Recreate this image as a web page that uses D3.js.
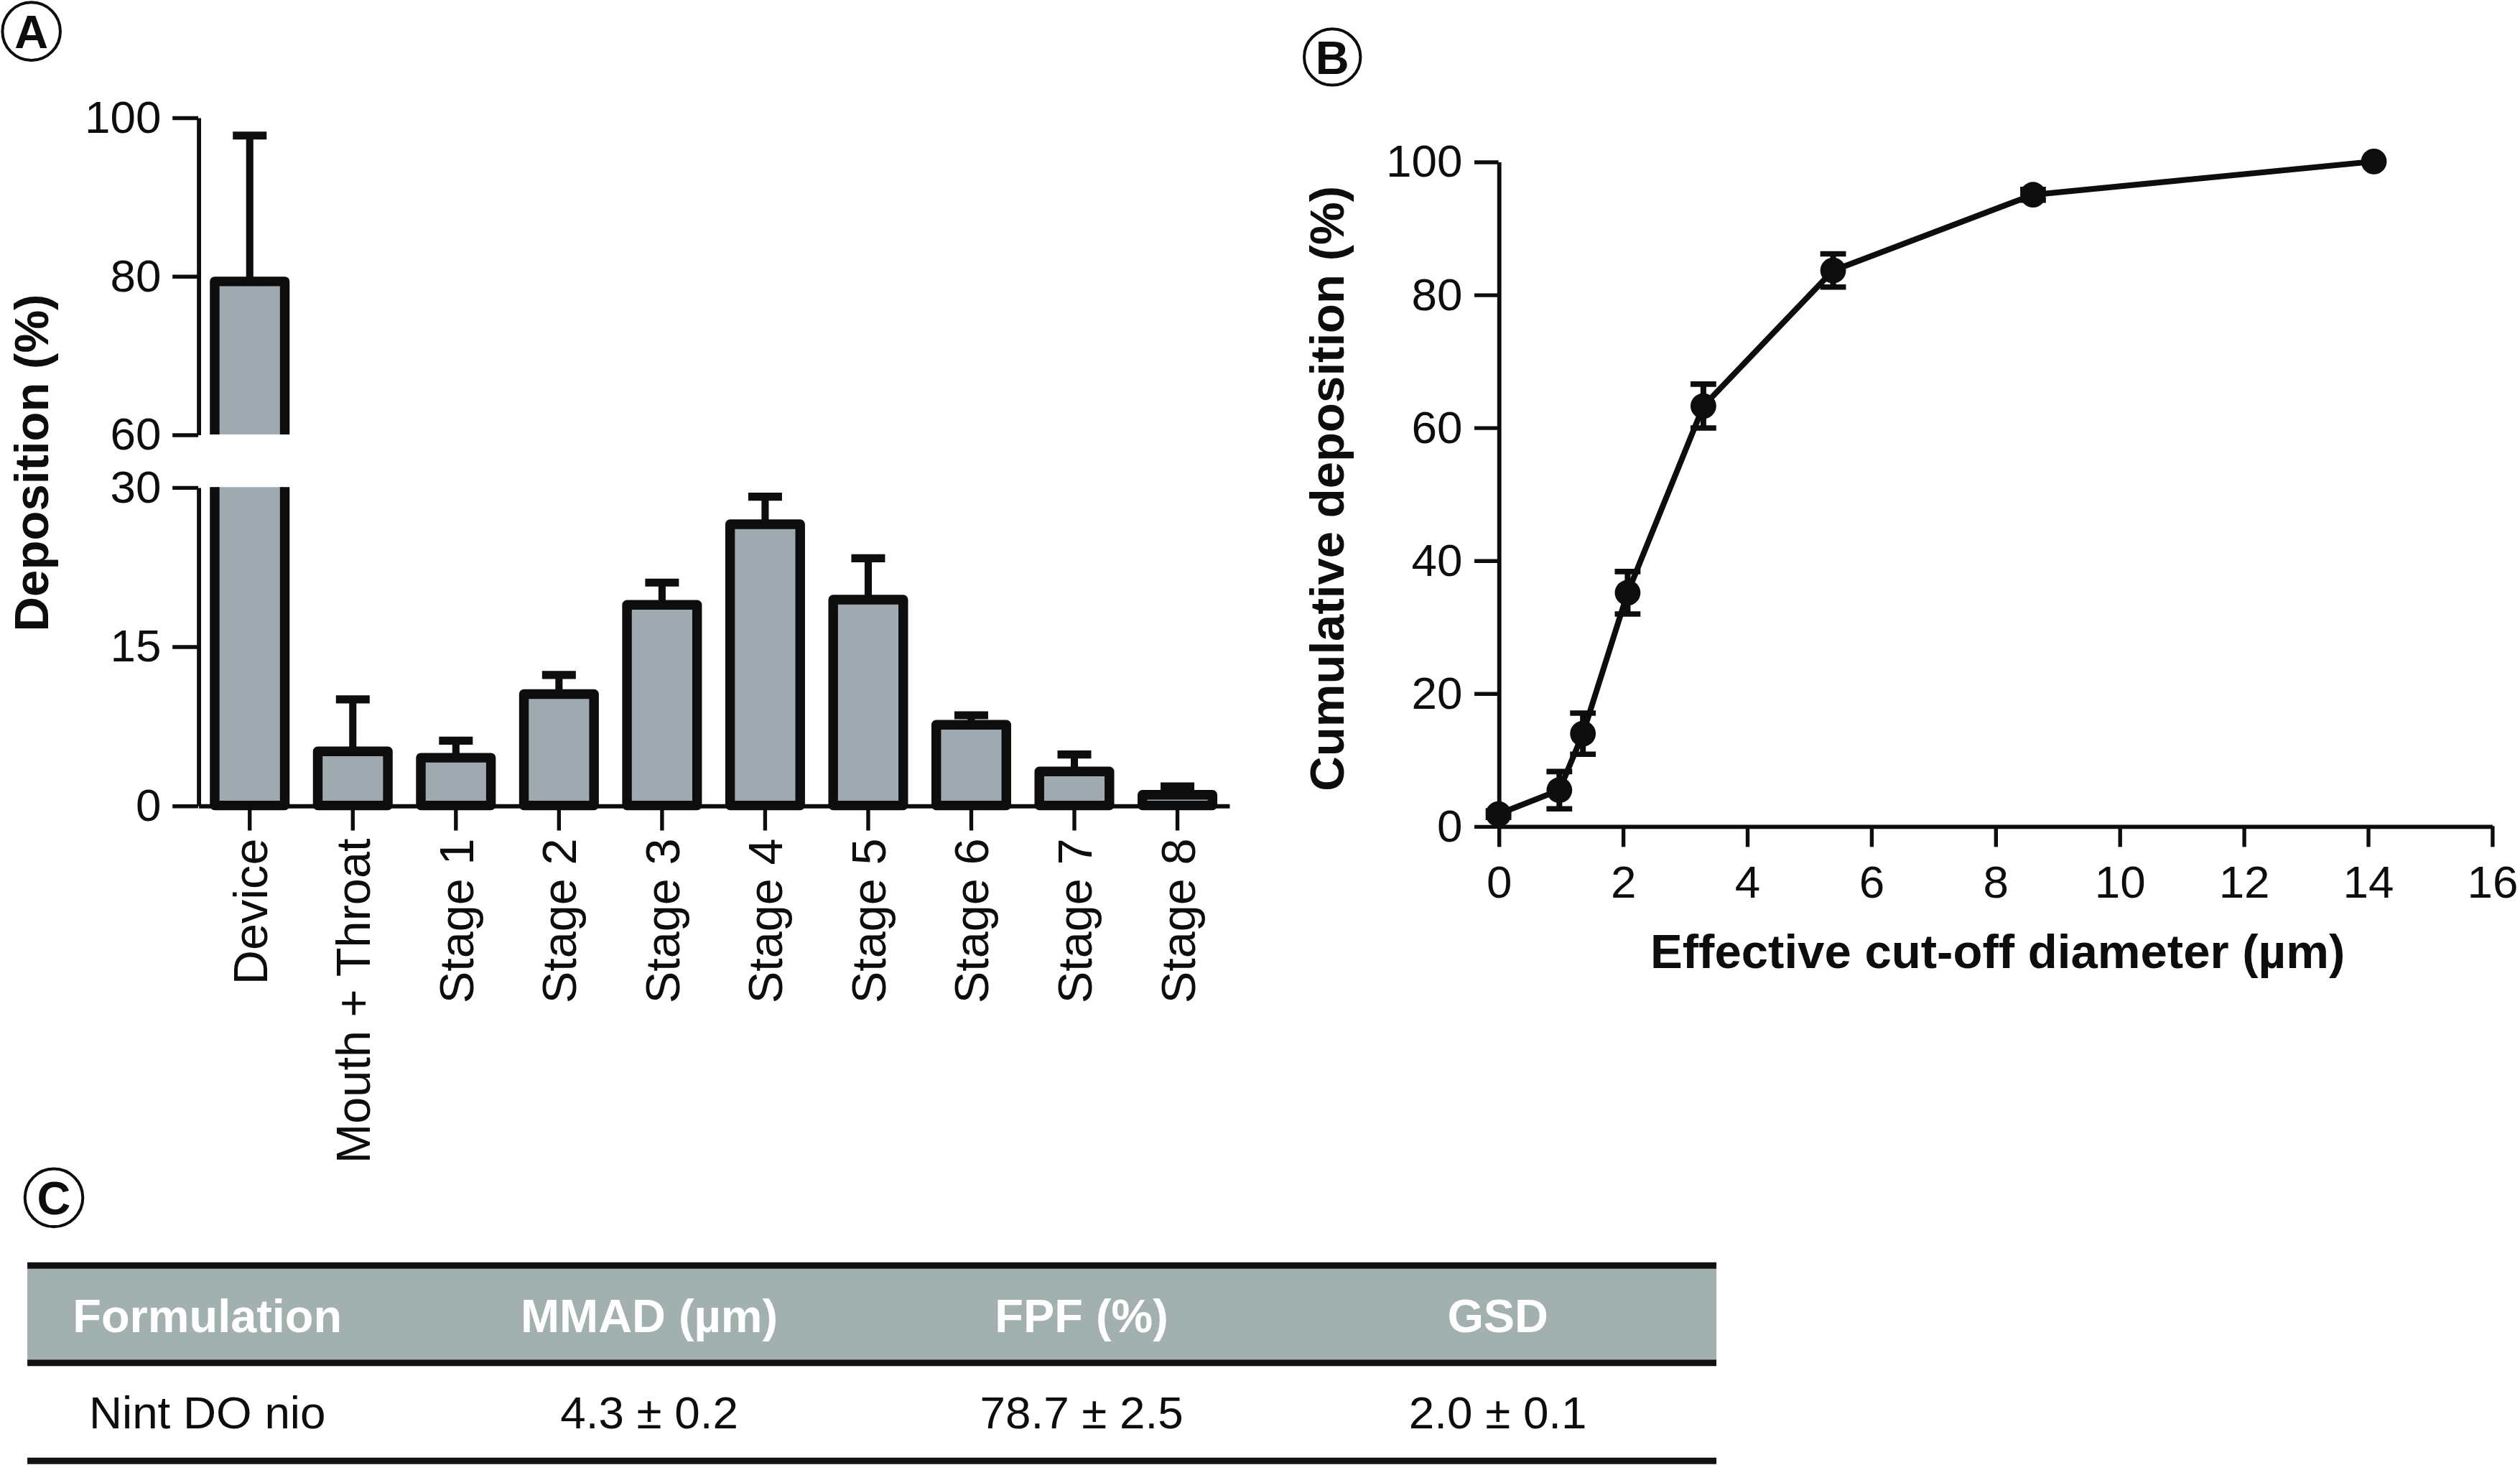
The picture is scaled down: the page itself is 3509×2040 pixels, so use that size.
<!DOCTYPE html>
<html><head><meta charset="utf-8">
<script src="https://cdn.jsdelivr.net/npm/d3@7"></script>
<style>html,body{margin:0;padding:0;background:#fff;overflow:hidden;} svg{display:block;}</style>
</head><body>
<svg id="chart"></svg>
<script>
// ---------- DATA ----------
const categories = ["Device", "Mouth + Throat", "Stage 1", "Stage 2", "Stage 3", "Stage 4", "Stage 5", "Stage 6", "Stage 7", "Stage 8"];
const depositionMean = [79.3, 5.1, 4.5, 10.5, 18.9, 26.5, 19.4, 7.6, 3.2, 1.0];
const depositionSD   = [18.4, 4.9, 1.6, 1.8, 2.1, 2.6, 3.9, 0.9, 1.6, 0.8];
const upperTicks = [60, 80, 100];
const lowerTicks = [0, 15, 30];

const cutoffDiameter = [0, 0.98, 1.36, 2.08, 3.30, 5.39, 8.61, 14.1];
const cumulativeDeposition = [1.8, 5.4, 13.9, 35.1, 63.2, 83.6, 95.0, 100];
const cumulativeSD = [0.5, 2.8, 3.1, 3.2, 3.3, 2.5, 0.8, 0];
const xTicksB = [0, 2, 4, 6, 8, 10, 12, 14, 16];
const yTicksB = [0, 20, 40, 60, 80, 100];

const tableHeaders = ["Formulation", "MMAD (µm)", "FPF (%)", "GSD"];
const tableRow = ["Nint DO nio", "4.3 ± 0.2", "78.7 ± 2.5", "2.0 ± 0.1"];

// ---------- SETUP ----------
const W = 1568, H = 911.6;
const FONT = "'Liberation Sans', Arial, Helvetica, sans-serif";
const BAR_FILL = "#9eaab0";
const HEAD_FILL = "#a2b0af";
const INK = "#0d0d0d";

const svg = d3.select("#chart")
  .attr("width", 3509).attr("height", 2040)
  .attr("viewBox", `0 0 ${W} ${H}`)
  .style("font-family", FONT);

function styleAxis(g, fs) {
  g.select(".domain").attr("stroke", INK).attr("stroke-width", 2.6);
  g.selectAll(".tick line").attr("stroke", INK).attr("stroke-width", 2.4);
  g.selectAll(".tick text").attr("fill", INK).style("font-size", fs + "px").style("font-family", FONT);
}

function panelLetter(cx, cy, r, letter) {
  svg.append("circle").attr("cx", cx).attr("cy", cy).attr("r", r)
    .attr("fill", "none").attr("stroke", INK).attr("stroke-width", 1.8);
  svg.append("text").attr("x", cx).attr("y", cy).attr("dy", "0.36em")
    .attr("text-anchor", "middle").style("font-size", "29px").style("font-weight", "bold")
    .attr("fill", INK).text(letter);
}

// ---------- PANEL A ----------
const axA = 123.3;
const x = d3.scaleBand().domain(categories).range([axA, 764.7]).padding(0);
const yUp = d3.scaleLinear().domain([60, 100]).range([270.3, 73]);
const yLow = d3.scaleLinear().domain([0, 30]).range([501.2, 303.1]);
const yVal = v => v > 30 ? yUp(v) : yLow(v);
const barW = x.bandwidth() * 0.68;

const gA = svg.append("g");

categories.forEach((c, i) => {
  const m = depositionMean[i];
  const cx = x(c) + x.bandwidth() / 2;
  const x0 = cx - barW / 2, x1 = cx + barW / 2;
  if (m > 30) {
    gA.append("rect").attr("x", x0).attr("y", yLow(30)).attr("width", barW).attr("height", yLow(0) - yLow(30)).attr("fill", BAR_FILL);
    gA.append("path").attr("d", `M${x0},${yLow(30)}V${yLow(0)}H${x1}V${yLow(30)}`)
      .attr("fill", "none").attr("stroke", INK).attr("stroke-width", 6).attr("stroke-linejoin", "round");
    gA.append("rect").attr("x", x0).attr("y", yUp(m)).attr("width", barW).attr("height", yUp(60) - yUp(m)).attr("fill", BAR_FILL);
    gA.append("path").attr("d", `M${x0},${yUp(60)}V${yUp(m)}H${x1}V${yUp(60)}`)
      .attr("fill", "none").attr("stroke", INK).attr("stroke-width", 6).attr("stroke-linejoin", "round");
  } else {
    gA.append("rect").attr("x", x0).attr("y", yLow(m)).attr("width", barW).attr("height", yLow(0) - yLow(m))
      .attr("fill", BAR_FILL).attr("stroke", INK).attr("stroke-width", 6).attr("stroke-linejoin", "round");
  }
  const top = yVal(m + depositionSD[i]);
  gA.append("line").attr("x1", cx).attr("x2", cx).attr("y1", yVal(m)).attr("y2", top)
    .attr("stroke", INK).attr("stroke-width", 4.5);
  gA.append("line").attr("x1", cx - 10.5).attr("x2", cx + 10.5).attr("y1", top).attr("y2", top)
    .attr("stroke", INK).attr("stroke-width", 5);
});

const gYU = gA.append("g").attr("transform", `translate(${axA},0)`)
  .call(d3.axisLeft(yUp).tickValues(upperTicks).tickSize(16).tickSizeOuter(0).tickPadding(7));
styleAxis(gYU, 28.5);
const gYL = gA.append("g").attr("transform", `translate(${axA},0)`)
  .call(d3.axisLeft(yLow).tickValues(lowerTicks).tickSize(16).tickSizeOuter(0).tickPadding(7));
styleAxis(gYL, 28.5);

const gXA = gA.append("g").attr("transform", `translate(0,${yLow(0)})`)
  .call(d3.axisBottom(x).tickSize(15.6).tickSizeOuter(0));
styleAxis(gXA, 29.8);
gXA.selectAll(".tick text")
  .attr("text-anchor", "end")
  .attr("x", 0).attr("y", 0)
  .attr("dy", "0.36em")
  .attr("transform", "translate(0,20.5) rotate(-90)");

gA.append("text").attr("transform", "translate(30,288) rotate(-90)")
  .attr("text-anchor", "middle").style("font-size", "30px").style("font-weight", "bold")
  .attr("fill", INK).text("Deposition (%)");

panelLetter(19.5, 19.5, 18, "A");

// ---------- PANEL B ----------
const xB = d3.scaleLinear().domain([0, 16]).range([932.4, 1550.5]);
const yB = d3.scaleLinear().domain([0, 100]).range([514, 100.5]);
const gB = svg.append("g");

const gXB = gB.append("g").attr("transform", `translate(0,${yB(0)})`)
  .call(d3.axisBottom(xB).tickValues(xTicksB).tickSize(13).tickSizeOuter(0).tickPadding(11.5));
styleAxis(gXB, 28.5);
const gYB = gB.append("g").attr("transform", `translate(${xB(0)},0)`)
  .call(d3.axisLeft(yB).tickValues(yTicksB).tickSize(15).tickSizeOuter(0).tickPadding(7.4));
styleAxis(gYB, 28.5);

const pts = cutoffDiameter.map((d, i) => ({ x: d, y: cumulativeDeposition[i], e: cumulativeSD[i] }));
gB.append("path").datum(pts)
  .attr("d", d3.line().x(d => xB(d.x)).y(d => yB(d.y)))
  .attr("fill", "none").attr("stroke", INK).attr("stroke-width", 3.6).attr("stroke-linejoin", "round");

const eb = gB.append("g").selectAll("g").data(pts.filter(d => d.e > 0)).join("g");
eb.append("line").attr("x1", d => xB(d.x)).attr("x2", d => xB(d.x))
  .attr("y1", d => yB(d.y - d.e)).attr("y2", d => yB(d.y + d.e))
  .attr("stroke", INK).attr("stroke-width", 3.6);
eb.append("line").attr("x1", d => xB(d.x) - 8).attr("x2", d => xB(d.x) + 8)
  .attr("y1", d => yB(d.y + d.e)).attr("y2", d => yB(d.y + d.e))
  .attr("stroke", INK).attr("stroke-width", 3.4);
eb.append("line").attr("x1", d => xB(d.x) - 8).attr("x2", d => xB(d.x) + 8)
  .attr("y1", d => yB(d.y - d.e)).attr("y2", d => yB(d.y - d.e))
  .attr("stroke", INK).attr("stroke-width", 3.4);

gB.append("g").selectAll("circle").data(pts).join("circle")
  .attr("cx", d => xB(d.x)).attr("cy", d => yB(d.y)).attr("r", 8).attr("fill", INK);

gB.append("text").attr("x", 1243).attr("y", 602.5)
  .attr("text-anchor", "middle").style("font-size", "30px").style("font-weight", "bold")
  .attr("fill", INK).text("Effective cut-off diameter (µm)");
gB.append("text").attr("transform", "translate(836,304) rotate(-90)")
  .attr("text-anchor", "middle").style("font-size", "30px").style("font-weight", "bold")
  .attr("fill", INK).text("Cumulative deposition (%)");

panelLetter(829, 35.5, 17.5, "B");

// ---------- PANEL C (table) ----------
panelLetter(33.5, 745.3, 18, "C");
const tX0 = 17, tX1 = 1068;
const col = d3.scaleOrdinal().domain(tableHeaders).range([129, 404, 673, 932]);
const gC = svg.append("g");
gC.append("rect").attr("x", tX0).attr("y", 789.4).attr("width", tX1 - tX0).attr("height", 846 - 789.4).attr("fill", HEAD_FILL);
[787.5, 848, 909].forEach(yy => {
  gC.append("line").attr("x1", tX0).attr("x2", tX1).attr("y1", yy).attr("y2", yy)
    .attr("stroke", "#111").attr("stroke-width", 4);
});
gC.selectAll("text.h").data(tableHeaders).join("text").attr("class", "h")
  .attr("x", d => col(d)).attr("y", 829).attr("text-anchor", "middle")
  .style("font-size", "29px").style("font-weight", "bold").attr("fill", "#fff").text(d => d);
gC.selectAll("text.b").data(tableRow).join("text").attr("class", "b")
  .attr("x", (d, i) => col(tableHeaders[i])).attr("y", 889).attr("text-anchor", "middle")
  .style("font-size", "28.5px").attr("fill", INK).text(d => d);
</script>
</body></html>
